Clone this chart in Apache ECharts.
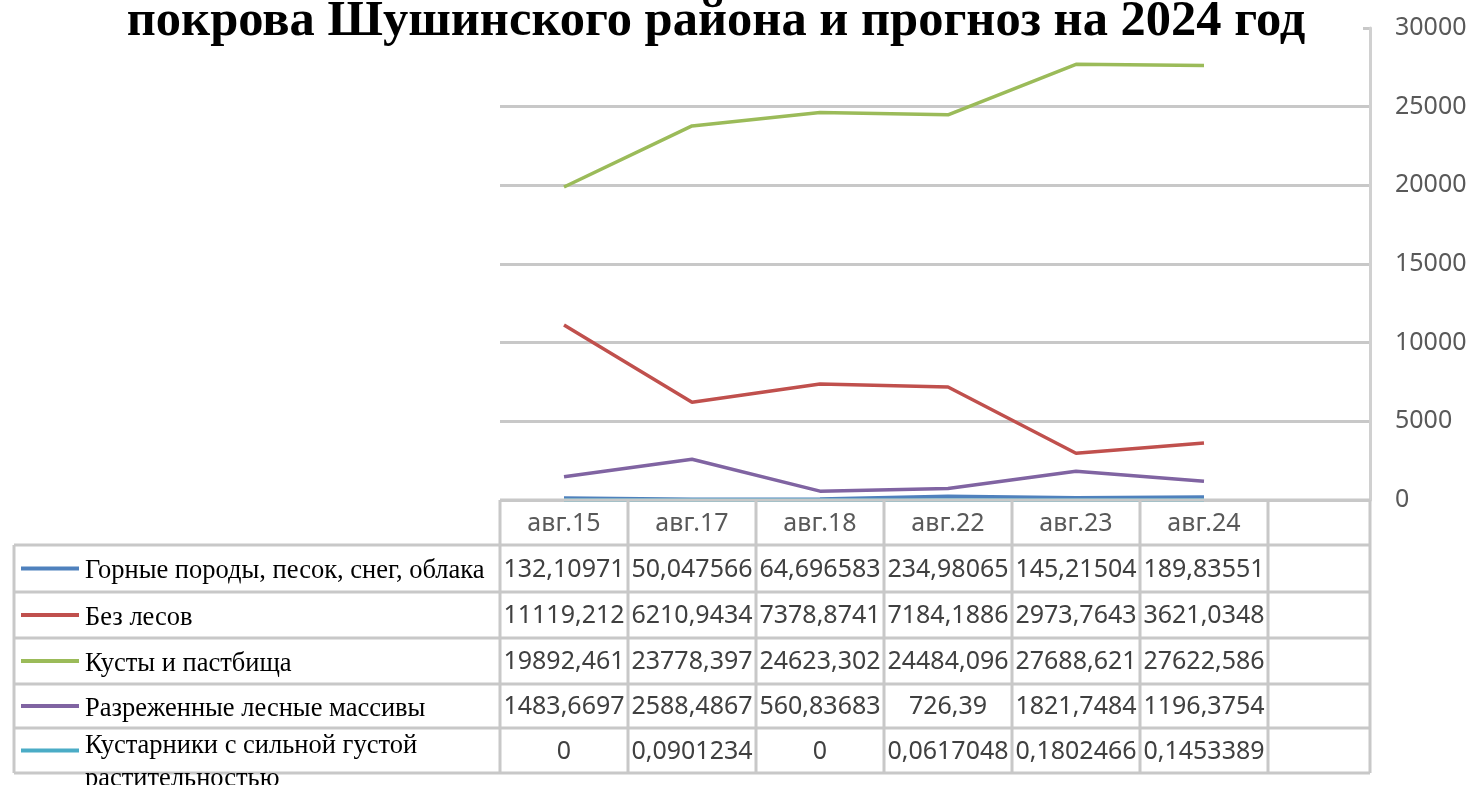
<!DOCTYPE html>
<html lang="ru">
<head>
    <meta charset="UTF-8">
    <title>покрова Шушинского района и прогноз на 2024 год</title>
    <script src="https://cdn.jsdelivr.net/npm/echarts@6/dist/echarts.min.js"></script>
    <style>
        html, body { margin: 0; padding: 0; background: #fff; }
        #container { width: 1472px; height: 785px; }
    </style>
</head>
<body>
<div id="container"></div>
<script type="text/javascript">
    // данные
    const titleText = 'покрова Шушинского района и прогноз на 2024 год';
    const categories = ['авг.15', 'авг.17', 'авг.18', 'авг.22', 'авг.23', 'авг.24'];
    const seriesNames = [
        'Горные породы, песок, снег, облака',
        'Без лесов',
        'Кусты и пастбища',
        'Разреженные лесные массивы',
        'Кустарники с сильной густой\nрастительностью'
    ];
    const rocks = [132.10971, 50.047566, 64.696583, 234.98065, 145.21504, 189.83551];
    const noForest = [11119.212, 6210.9434, 7378.8741, 7184.1886, 2973.7643, 3621.0348];
    const bushes = [19892.461, 23778.397, 24623.302, 24484.096, 27688.621, 27622.586];
    const sparse = [1483.6697, 2588.4867, 560.83683, 726.39, 1821.7484, 1196.3754];
    const shrubs = [0, 0.0901234, 0, 0.0617048, 0.1802466, 0.1453389];
    const yMin = 0, yMax = 30000, yStep = 5000;

    const allSeries = [rocks, noForest, bushes, sparse, shrubs];
    const colors = ['#4F81BD', '#C0504D', '#9BBB59', '#8064A2', '#4BACC6'];

    // разметка таблицы
    const colX = [500, 628, 756, 884, 1012, 1140, 1268, 1370];
    const rowY = [500, 545, 592, 638, 684, 728, 773];
    const tableLeft = 14;
    const border = '#c8c8c8';

    function fmt(v) {
        return String(v).replace('.', ',');
    }

    let graphics = [];
    // белая подложка под заголовок
    graphics.push({
        type: 'rect', z: 50,
        shape: {x: 0, y: 0, width: 1363, height: 40},
        style: {fill: '#fff'}
    });
    graphics.push({
        type: 'text', z: 60, x: 716, y: 22,
        style: {
            text: titleText, fill: '#000',
            font: 'bold 50.5px "Liberation Serif"',
            align: 'center', verticalAlign: 'middle',
            textAlign: 'center', textVerticalAlign: 'middle'
        }
    });

    function hline(x1, x2, y) {
        graphics.push({type: 'line', z: 40, shape: {x1: x1, y1: y, x2: x2, y2: y}, style: {stroke: border, lineWidth: 3}});
    }
    function vline(x, y1, y2) {
        graphics.push({type: 'line', z: 40, shape: {x1: x, y1: y1, x2: x, y2: y2}, style: {stroke: border, lineWidth: 3}});
    }
    function cellText(txt, x, y, color, font) {
        graphics.push({
            type: 'text', z: 45, x: x, y: y,
            style: {
                text: txt, fill: color, font: font,
                align: 'center', verticalAlign: 'middle',
                textAlign: 'center', textVerticalAlign: 'middle'
            }
        });
    }

    // линии таблицы
    hline(colX[0], colX[colX.length - 1], rowY[0]);
    for (let r = 1; r < rowY.length; r++) {
        hline(tableLeft, colX[colX.length - 1], rowY[r]);
    }
    for (let c = 0; c < colX.length; c++) {
        vline(colX[c], rowY[0], rowY[rowY.length - 1]);
    }
    vline(tableLeft, rowY[1], rowY[rowY.length - 1]);

    // шапка
    for (let i = 0; i < categories.length; i++) {
        cellText(categories[i], (colX[i] + colX[i + 1]) / 2, (rowY[0] + rowY[1]) / 2 + 1,
            '#595959', '25px "Noto Sans"');
    }
    // строки
    for (let s = 0; s < allSeries.length; s++) {
        let cy = (rowY[s + 1] + rowY[s + 2]) / 2;
        for (let i = 0; i < categories.length; i++) {
            cellText(fmt(allSeries[s][i]), (colX[i] + colX[i + 1]) / 2, cy + 1,
                '#404040', '25px "Noto Sans"');
        }
        // ключ легенды
        graphics.push({
            type: 'line', z: 45,
            shape: {x1: 21, y1: cy, x2: 79, y2: cy},
            style: {stroke: colors[s], lineWidth: 4}
        });
        let multi = seriesNames[s].indexOf('\n') >= 0;
        graphics.push({
            type: 'text', z: 45, x: 85, y: multi ? cy + 12 : cy + 3,
            style: {
                text: seriesNames[s], fill: '#000',
                font: '26.5px "Liberation Serif"', lineHeight: 33,
                align: 'left', verticalAlign: 'middle',
                textAlign: 'left', textVerticalAlign: 'middle'
            }
        });
    }

    let dom = document.getElementById('container');
    let myChart = echarts.init(dom);
    let option = {
        animation: false,
        color: colors,
        grid: [
            {left: 500, right: 1472 - 1268, top: 28, bottom: 785 - 500},
            {left: 500, right: 1472 - 1370, top: 28, bottom: 785 - 500}
        ],
        xAxis: [
            {type: 'category', gridIndex: 0, data: categories, show: false, boundaryGap: true},
            {type: 'value', gridIndex: 1, show: false, min: 0, max: 1}
        ],
        yAxis: [
            {type: 'value', gridIndex: 0, min: yMin, max: yMax, show: false},
            {
                type: 'value', gridIndex: 1, position: 'right',
                min: yMin, max: yMax, interval: yStep,
                axisLine: {show: true, onZero: false, lineStyle: {color: '#d0d0d0', width: 3}},
                axisTick: {show: false},
                axisLabel: {
                    margin: 25, color: '#595959', fontSize: 25,
                    fontFamily: 'Noto Sans',
                    formatter: function (v) { return String(v); }
                },
                splitLine: {show: true, lineStyle: {color: border, width: 3}}
            }
        ],
        series: allSeries.map(function (d, i) {
            return {
                name: seriesNames[i],
                type: 'line',
                xAxisIndex: 0,
                yAxisIndex: 0,
                data: d,
                symbol: 'none',
                lineStyle: {width: 3.5, color: colors[i]},
                z: 30
            };
        }),
        graphic: graphics
    };
    myChart.setOption(option);
</script>
</body>
</html>
